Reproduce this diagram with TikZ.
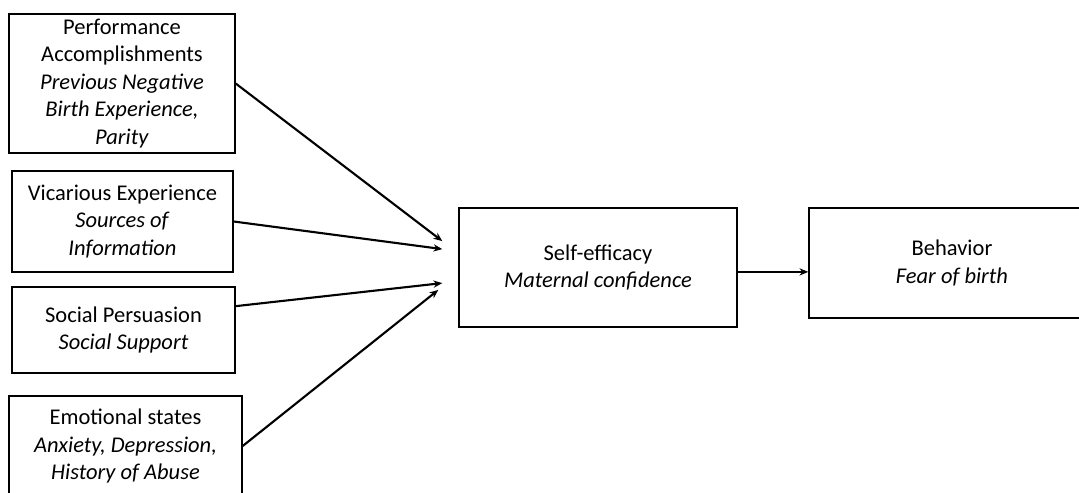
\documentclass[tikz,border=0pt]{standalone}
\usepackage{fontspec}
\setmainfont{Carlito}
\usepackage{tikz}
\usetikzlibrary{positioning,calc,arrows.meta}

\begin{document}
\begin{tikzpicture}[
        every node/.style={font=\fontsize{16}{19.5}\selectfont},
        srcbox/.style={rectangle, draw=black, line width=1pt, align=center, inner sep=2pt},
        arrow/.style={-{Stealth[length=2.2mm, width=1.8mm]}, line width=1.5pt, draw=black}
        ]
        \useasboundingbox (0, 0) rectangle (26.975, -12.325);

        \node[srcbox, minimum width=5.65cm, minimum height=3.475cm] (perform) at (3.05, -2.0875) {Performance\\Accomplishments\\\textit{Previous Negative}\\\textit{Birth Experience,}\\\textit{Parity}};
        \node[srcbox, minimum width=5.525cm, minimum height=2.525cm] (vicar) at (3.0625, -5.5375) {Vicarious Experience\\\textit{Sources of}\\\textit{Information}};
        \node[srcbox, minimum width=5.575cm, minimum height=2.15cm] (persuade) at (3.0875, -8.25) {Social Persuasion\\\textit{Social Support}};
        \node[srcbox, minimum width=5.825cm, minimum height=2.5cm] (emotion) at (3.1375, -11.15) {Emotional states\\\textit{Anxiety, Depression,}\\\textit{History of Abuse}};
        \node[srcbox, minimum width=6.95cm, minimum height=2.975cm] (efficacy) at (14.95, -6.6875) {Self-efficacy\\\textit{Maternal confidence}};
        \node[srcbox, minimum width=7.15cm, minimum height=2.75cm] (behavior) at (23.8, -6.575) {Behavior\\\textit{Fear of birth}};

        \coordinate (in1) at ([xshift=-0.4cm, yshift=0.66cm]efficacy.west);
        \coordinate (in2) at ([xshift=-0.4cm, yshift=0.46cm]efficacy.west);
        \coordinate (in3) at ([xshift=-0.4cm, yshift=-0.39cm]efficacy.west);
        \coordinate (in4) at ([xshift=-0.5cm, yshift=-0.56cm]efficacy.west);

        \draw[arrow] (perform.east) -- (in1);
        \draw[arrow] (vicar.east) -- (in2);
        \draw[arrow] (persuade.12) -- (in3);
        \draw[arrow] (emotion.east) -- (in4);
        \draw[arrow] ([yshift=-0.11cm]efficacy.east) -- ([yshift=-0.11cm]efficacy.east -| behavior.west);

    \end{tikzpicture}
\end{document}
